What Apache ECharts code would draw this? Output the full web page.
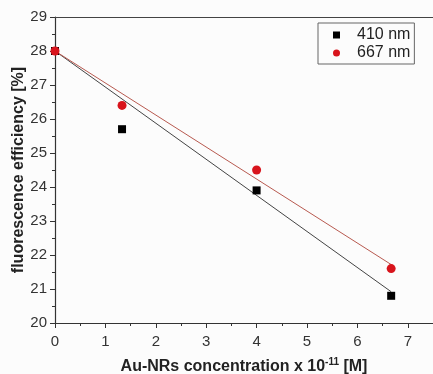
<!DOCTYPE html>
<html>
<head>
<meta charset="utf-8">
<script src="https://cdn.jsdelivr.net/npm/echarts@6/dist/echarts.min.js"></script>
<style>
  html, body { margin: 0; padding: 0; background: #fcfcfc; }
  #chart { width: 433px; height: 374px; }
</style>
</head>
<body>
<div id="chart"></div>
<script>
// measured points (concentration in 1e-11 M)
const conc = [0, 1.33, 4, 6.67];
const eff410 = [28, 25.7, 23.9, 20.8];
const eff667 = [28, 26.4, 24.5, 21.6];
// linear fit end points
const fitX = [0, 6.67];
const fit410 = [28, 20.92];
const fit667 = [28, 21.72];

const xTicks = [0, 1, 2, 3, 4, 5, 6, 7];
const yTicks = [20, 21, 22, 23, 24, 25, 26, 27, 28, 29];

const font = 'Liberation Sans, Arial, sans-serif';
const chart = echarts.init(document.getElementById('chart'));

const pair = (xs, ys) => xs.map((x, i) => [x, ys[i]]);

chart.setOption({
  animation: false,
  backgroundColor: '#fcfcfc',
  grid: { left: 55, top: 17, right: 0, bottom: 51, outerBoundsMode: 'none' },
  legend: {
    left: 318,
    top: 23,
    orient: 'vertical',
    borderColor: '#666',
    borderWidth: 1,
    padding: [4, 4, 3, 15],
    itemGap: 2,
    itemWidth: 7,
    itemHeight: 7,
    textStyle: { fontFamily: font, fontSize: 16, color: '#222', padding: [0, 0, 0, 12] },
    data: [
      { name: '410 nm', icon: 'rect' },
      { name: '667 nm', icon: 'circle' }
    ]
  },
  xAxis: [
    {
      type: 'value',
      min: 0,
      max: 7.5,
      interval: 1,
      name: '{b|Au-NRs concentration x 10}{s|-11}{b| [M]}',
      nameLocation: 'middle',
      nameGap: 34,
      nameMoveOverlap: false,
      nameTextStyle: {
        rich: {
          b: { fontFamily: font, fontSize: 16, fontWeight: 'bold', color: '#222' },
          s: { fontFamily: font, fontSize: 10, fontWeight: 'bold', color: '#222', padding: [0, 0, 9, 0] }
        }
      },
      axisLine: { lineStyle: { color: '#333', width: 1.2 } },
      axisTick: { length: 5, lineStyle: { color: '#333' } },
      minorTick: { show: true, splitNumber: 2, length: 3, lineStyle: { color: '#333' } },
      axisLabel: {
        fontFamily: font, fontSize: 15, color: '#333', margin: 11,
        showMaxLabel: false,
        formatter: v => (xTicks.includes(v) ? String(v) : '')
      },
      splitLine: { show: false }
    },
    {
      type: 'value',
      position: 'top',
      min: 0,
      max: 7.5,
      axisLine: { show: true, onZero: false, lineStyle: { color: '#444', width: 1.2 } },
      axisTick: { show: false },
      axisLabel: { show: false },
      splitLine: { show: false }
    }
  ],
  yAxis: {
    type: 'value',
    min: 20,
    max: 29,
    interval: 1,
    name: 'fluorescence efficiency [%]',
    nameLocation: 'middle',
    nameGap: 28,
    nameMoveOverlap: false,
    nameTextStyle: { fontFamily: font, fontSize: 16, fontWeight: 'bold', color: '#222' },
    axisLine: { show: true, lineStyle: { color: '#333', width: 1.2 } },
    axisTick: { show: true, length: 5, lineStyle: { color: '#333' } },
    minorTick: { show: true, splitNumber: 2, length: 3, lineStyle: { color: '#333' } },
    axisLabel: {
      fontFamily: font, fontSize: 15, color: '#333', margin: 8,
      formatter: v => (yTicks.includes(v) ? String(v) : '')
    },
    splitLine: { show: false }
  },
  series: [
    {
      name: 'fit 410',
      type: 'line',
      data: pair(fitX, fit410),
      symbol: 'none',
      lineStyle: { color: '#444', width: 1 },
      z: 2
    },
    {
      name: 'fit 667',
      type: 'line',
      data: pair(fitX, fit667),
      symbol: 'none',
      lineStyle: { color: '#b85a50', width: 1 },
      z: 2
    },
    {
      name: '410 nm',
      type: 'scatter',
      data: pair(conc, eff410),
      symbol: 'rect',
      symbolSize: 8,
      itemStyle: { color: '#000', opacity: 1 },
      z: 3
    },
    {
      name: '667 nm',
      type: 'scatter',
      data: pair(conc, eff667),
      symbol: 'circle',
      symbolSize: 9,
      itemStyle: { color: '#d8141c', opacity: 1 },
      z: 4
    }
  ]
});
</script>
</body>
</html>
